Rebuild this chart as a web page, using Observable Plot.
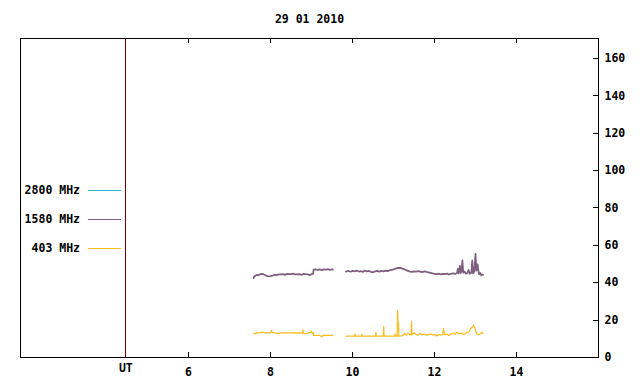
<!DOCTYPE html>
<html>
<head>
<meta charset="utf-8">
<script src="https://cdn.jsdelivr.net/npm/d3@7"></script>
<script src="https://cdn.jsdelivr.net/npm/@observablehq/plot@0.6"></script>
<style>
  html, body { margin: 0; padding: 0; background: #fff; }
  svg { display: block; }
  svg text { font-family: "DejaVu Sans Mono", monospace; font-weight: bold; }
</style>
</head>
<body>
<div id="chart"></div>
<script>
const title = "29 01 2010";
const xTicks = [6, 8, 10, 12, 14];
const yTicks = [0, 20, 40, 60, 80, 100, 120, 140, 160];
const utLine = 4.47;
const legendNames = ["2800 MHz", "1580 MHz", "403 MHz"];
const legendColors = ["#26b5c5", "#806080", "#fbbd23"];

// 1580 MHz (UT hours, sfu)
const t1580 = [7.59, 7.6, 7.62, 7.66, 7.7, 7.75, 7.8, 7.85, 7.9, 7.95, 8.0, 8.05, 8.1, 8.15, 8.2, 8.3, 8.35, 8.4, 8.5, 8.55, 8.6, 8.7, 8.75, 8.8, 8.9, 8.95, 9.0, 9.04, 9.05, 9.1, 9.15, 9.2, 9.25, 9.3, 9.35, 9.4, 9.45, 9.5, 9.52,
  NaN,
  9.84, 9.9, 9.95, 10.0, 10.05, 10.1, 10.15, 10.2, 10.25, 10.3, 10.35, 10.4, 10.45, 10.5, 10.55, 10.6, 10.65, 10.7, 10.75, 10.8, 10.85, 10.9, 10.95, 11.0, 11.05, 11.1, 11.16, 11.2, 11.25, 11.3, 11.35, 11.4, 11.45, 11.5, 11.55, 11.6, 11.65, 11.7, 11.75, 11.8, 11.85, 11.9, 11.95, 12.0, 12.05, 12.1, 12.15, 12.2, 12.25, 12.3, 12.35, 12.4, 12.45, 12.5, 12.55, 12.57, 12.59, 12.62, 12.64, 12.66, 12.68, 12.7, 12.73, 12.76, 12.8, 12.83, 12.86, 12.9, 12.92, 12.94, 12.97, 13.0, 13.02, 13.05, 13.07, 13.09, 13.11, 13.14, 13.16, 13.18];
const v1580 = [42.5, 43.2, 43.6, 44.2, 44.0, 44.6, 44.8, 44.3, 43.7, 43.4, 43.5, 43.8, 44.3, 44.0, 44.5, 44.6, 44.2, 44.7, 44.6, 44.9, 44.5, 44.6, 44.2, 44.7, 44.5, 44.1, 44.6, 44.8, 47.0, 47.2, 46.9, 47.1, 46.8, 47.2, 47.0, 47.3, 46.9, 47.1, 47.0,
  NaN,
  46.0, 46.3, 45.9, 46.4, 46.1, 46.5, 46.0, 46.2, 45.8, 46.5, 46.1, 46.3, 45.8, 45.6, 46.1, 46.4, 46.0, 46.3, 46.1, 46.5, 46.2, 46.6, 46.9, 47.2, 47.6, 47.9, 48.0, 47.7, 47.3, 46.8, 46.4, 46.0, 45.8, 46.1, 45.9, 46.2, 46.0, 45.7, 46.1, 45.8, 45.6, 45.3, 45.0, 44.8, 44.6, 44.9, 44.5, 44.8, 44.6, 44.9, 44.5, 44.8, 45.0, 44.7, 45.2, 47.4, 45.0, 49.0, 45.3, 46.2, 51.9, 45.4, 46.0, 44.9, 45.2, 46.8, 44.8, 45.5, 51.9, 45.0, 46.0, 55.5, 46.5, 49.8, 46.5, 44.5, 45.2, 44.0, 44.4, 44.2];

// 403 MHz (UT hours, sfu)
const t403 = [7.59, 7.62, 7.66, 7.75, 7.8, 7.85, 8.0, 8.02, 8.04, 8.1, 8.2, 8.25, 8.4, 8.5, 8.65, 8.78, 8.79, 8.8, 8.9, 8.95, 8.98, 9.0, 9.02, 9.04, 9.05, 9.15, 9.2, 9.25, 9.28, 9.4, 9.52,
  NaN,
  9.84, 10.05, 10.06, 10.07, 10.22, 10.23, 10.24, 10.56, 10.57, 10.58, 10.75, 10.76, 10.77, 11.03, 11.04, 11.05, 11.09, 11.1, 11.11, 11.12, 11.13, 11.2, 11.24, 11.28, 11.32, 11.36, 11.4, 11.43, 11.44, 11.45, 11.5, 11.55, 11.6, 11.65, 11.7, 11.75, 11.8, 11.85, 11.9, 11.95, 12.0, 12.05, 12.1, 12.15, 12.2, 12.22, 12.24, 12.3, 12.35, 12.4, 12.45, 12.5, 12.55, 12.6, 12.65, 12.7, 12.75, 12.8, 12.85, 12.88, 12.92, 12.95, 12.98, 13.0, 13.03, 13.08, 13.12, 13.15, 13.18];
const v403 = [13.0, 12.6, 13.2, 13.3, 13.6, 13.2, 13.2, 14.6, 13.6, 13.2, 12.8, 13.2, 13.2, 13.2, 13.1, 13.2, 14.8, 12.8, 12.9, 13.3, 13.4, 14.2, 12.8, 13.3, 11.8, 11.8, 11.8, 11.2, 11.8, 11.8, 11.8,
  NaN,
  11.4, 11.4, 12.5, 11.4, 11.4, 12.5, 11.4, 11.4, 13.4, 11.4, 11.4, 16.6, 11.4, 11.4, 12.8, 11.4, 11.4, 25.1, 18.6, 18.5, 11.4, 11.6, 12.1, 12.8, 12.0, 12.9, 12.2, 12.0, 19.3, 12.3, 13.2, 12.3, 12.0, 13.0, 12.1, 12.6, 12.0, 12.3, 12.5, 12.1, 12.2, 11.6, 12.2, 12.0, 12.3, 15.5, 12.3, 12.5, 11.8, 12.5, 13.1, 12.4, 13.5, 12.8, 13.0, 12.4, 12.8, 13.4, 14.0, 15.5, 16.2, 17.1, 16.0, 14.5, 12.6, 12.3, 12.6, 13.4, 12.8];

const d1580 = t1580.map((t, i) => ({t, v: v1580[i]}));
const d403 = t403.map((t, i) => ({t, v: v403[i]}));

const W = 640, H = 384;
const mTop = 38, mRight = 42, mBottom = 27, mLeft = 20;
const innerW = W - mLeft - mRight, innerH = H - mTop - mBottom;
const tickLen = 5;

const plot = Plot.plot({
  width: W, height: H,
  marginTop: mTop, marginRight: mRight, marginBottom: mBottom, marginLeft: mLeft,
  style: {fontFamily: "DejaVu Sans Mono, monospace", fontSize: "11.5px", fontWeight: "bold", background: "#fff", color: "#000"},
  x: {domain: [1.9, 16]},
  y: {domain: [0, 170.7]},
  marks: [
    Plot.ruleX([utLine], {stroke: "#7a0000", strokeWidth: 1, shapeRendering: "crispEdges"}),
    Plot.line(d403, {x: "t", y: "v", stroke: legendColors[2], strokeWidth: 1.3}),
    Plot.line(d1580, {x: "t", y: "v", stroke: legendColors[1], strokeWidth: 1.8}),
    Plot.ruleX(xTicks, {insetTop: innerH - tickLen, stroke: "#000", shapeRendering: "crispEdges"}),
    Plot.ruleX(xTicks, {insetBottom: innerH - tickLen, stroke: "#000", shapeRendering: "crispEdges"}),
    Plot.ruleY(yTicks, {insetLeft: innerW - tickLen, stroke: "#000", shapeRendering: "crispEdges"}),
    Plot.frame({stroke: "#000", strokeWidth: 1, shapeRendering: "crispEdges"}),
    Plot.axisX({ticks: xTicks, tickSize: 0, tickPadding: 10, tickFormat: d => String(d), label: null, fontWeight: "bold", fontSize: 11.5}),
    Plot.axisY({anchor: "right", ticks: yTicks, tickSize: 0, tickPadding: 6, tickFormat: d => String(d), label: null, fontWeight: "bold", fontSize: 11.5}),
    Plot.text(["UT"], {x: utLine, frameAnchor: "bottom", lineAnchor: "middle", dy: 11, fontWeight: "bold", fontSize: 11.5}),
    Plot.text([title], {frameAnchor: "top", lineAnchor: "middle", dy: -19, fontWeight: "bold", fontSize: 11.5})
  ]
});
document.getElementById("chart").appendChild(plot);

// legend, inside frame on the left
const svg = d3.select(plot);
const lg = svg.append("g");
legendNames.forEach((name, i) => {
  const yy = 190 + i * 29;
  lg.append("text").attr("x", 80).attr("y", yy).attr("dy", "0.35em")
    .attr("text-anchor", "end").attr("font-size", 11.5).attr("font-weight", "bold")
    .attr("fill", "#000").text(name);
  lg.append("line").attr("x1", 88).attr("x2", 121).attr("y1", yy).attr("y2", yy)
    .attr("stroke", legendColors[i]).attr("stroke-width", 1).attr("shape-rendering", "crispEdges");
});
</script>
</body>
</html>
